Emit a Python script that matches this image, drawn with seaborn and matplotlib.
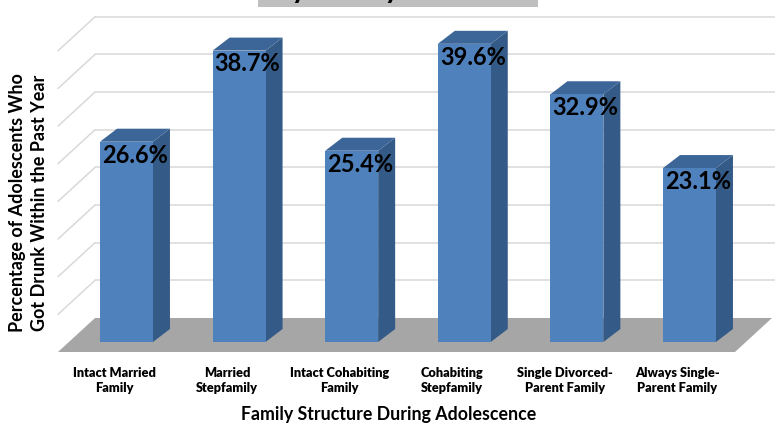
import matplotlib
matplotlib.use("Agg")
import matplotlib.pyplot as plt
import seaborn as sns
import pandas as pd
from matplotlib.patches import Polygon, Rectangle

# ---- data ----
categories = ["Intact Married\nFamily", "Married\nStepfamily", "Intact Cohabiting\nFamily",
              "Cohabiting\nStepfamily", "Single Divorced-\nParent Family", "Always Single-\nParent Family"]
values = [26.6, 38.7, 25.4, 39.6, 32.9, 23.1]
value_labels = ["26.6%", "38.7%", "25.4%", "39.6%", "32.9%", "23.1%"]
grid_levels = [5, 10, 15, 20, 25, 30, 35, 40]
x_title = "Family Structure During Adolescence"
y_title = "Percentage of Adolescents Who\nGot Drunk Within the Past Year"
chart_title = "by Family Structure"

sns.set_style("white")
plt.rcParams["font.family"] = ["Lato", "DejaVu Sans"]

W, H = 775, 423
fig = plt.figure(figsize=(W / 100, H / 100), dpi=100)
ax = fig.add_axes([0, 0, 1, 1])

df = pd.DataFrame({"cat": categories, "val": values})
sns.barplot(data=df, x="cat", y="val", color="#4F81BD", saturation=1, width=0.47,
            ax=ax, zorder=4, linewidth=0)

# pixel-based layout mapping (x: category units, y: percent)
px_per_cat = 112.6
px_per_pct = 7.53
x0_px, base_px = 126.5, 342.0
ax.set_xlim(-x0_px / px_per_cat, (W - x0_px) / px_per_cat)
ax.set_ylim(-(H - base_px) / px_per_pct, base_px / px_per_pct)
ax.axis("off")

def cx(px):
    return (px - x0_px) / px_per_cat

def cy(py):
    return (base_px - py) / px_per_pct

# floor & walls geometry
fl_front_l, fl_front_r, fl_front_y = 58, 735, 352
wall_dx, wall_back_y = 37, 318
floor = Polygon([(cx(fl_front_l), cy(fl_front_y)), (cx(fl_front_r), cy(fl_front_y)),
                 (cx(fl_front_r + wall_dx), cy(wall_back_y)), (cx(fl_front_l + wall_dx), cy(wall_back_y))],
                closed=True, facecolor="#A6A6A6", edgecolor="none", zorder=1)
ax.add_patch(floor)

for v in grid_levels:
    yb = cy(wall_back_y) + v
    yf = cy(fl_front_y) + v
    ax.plot([cx(fl_front_l), cx(fl_front_l + wall_dx)], [yf, yb], color="#D9D9D9", lw=1.1, zorder=0.5)
    ax.plot([cx(fl_front_l + wall_dx), cx(W + 5)], [yb, yb], color="#D9D9D9", lw=1.1, zorder=0.5)

# 3D faces of bars
ddx = 17 / px_per_cat
ddy = 13 / px_per_pct
for p, lab in zip(ax.patches[:len(values)], value_labels):
    x0 = p.get_x()
    x1 = x0 + p.get_width()
    h = p.get_height()
    side = Polygon([(x1, 0), (x1 + ddx, ddy), (x1 + ddx, h + ddy), (x1, h)], closed=True,
                   facecolor="#345A87", edgecolor="none", zorder=3)
    top = Polygon([(x0, h), (x0 + ddx, h + ddy), (x1 + ddx, h + ddy), (x1, h)], closed=True,
                  facecolor="#3D6698", edgecolor="none", zorder=3)
    ax.add_patch(side)
    ax.add_patch(top)
    ax.text((x0 + x1 + ddx) / 2, h - 0.25, lab, ha="center", va="top", fontsize=17,
            fontweight="bold", color="black", zorder=6)

# category labels along floor front edge
for i, c in enumerate(categories):
    ax.text(i - 12 / px_per_cat, cy(380), c, ha="center", va="center", fontsize=9.2,
            fontweight="heavy", linespacing=1.3, color="black")

fig.text(389 / W, 1 - 414 / H, x_title, ha="center", va="center", fontsize=12.8,
         fontweight="bold", color="black")
fig.text(28.5 / W, 1 - 203 / H, y_title, ha="center", va="center", rotation=90,
         fontsize=13, fontweight="bold", linespacing=1.4, color="black")

# title box (mostly cropped at top, as in the reference)
fig.patches.append(Rectangle((258 / W, 1 - 7 / H), 280 / W, 7 / H, transform=fig.transFigure,
                             facecolor="#BFBFBF", edgecolor="none", zorder=0))
fig.text(275 / W, 1 + 2 / H, chart_title, ha="left", va="baseline", fontsize=21,
         fontweight="bold", color="black")

fig.savefig("out.png", dpi=100)
